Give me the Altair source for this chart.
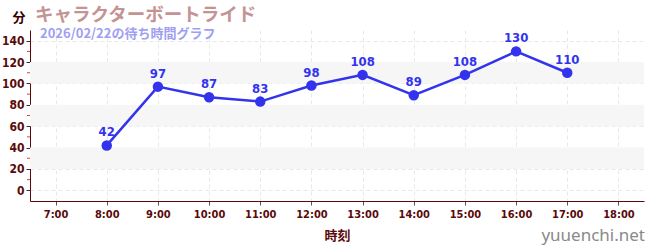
import altair as alt
import pandas as pd

hours = [8, 9, 10, 11, 12, 13, 14, 15, 16, 17]
waits = [42, 97, 87, 83, 98, 108, 89, 108, 130, 110]
hour_ticks = [7, 8, 9, 10, 11, 12, 13, 14, 15, 16, 17, 18]
y_ticks = [0, 20, 40, 60, 80, 100, 120, 140]
minor_ticks = [10, 30, 50, 70, 90, 110, 130]
band_lo = [20, 60, 100]
band_hi = [40, 80, 120]

W, H = 614, 171
AXIS = "#5a0a0a"
FONT = "DejaVu Sans Condensed"

df = pd.DataFrame({"hour": hours, "wait": waits})
bands = pd.DataFrame({"lo": band_lo, "hi": band_hi})
minors = pd.DataFrame({"v": minor_ticks})

xs = alt.Scale(domain=[6.5, 18.5], nice=False, zero=False)
ys = alt.Scale(domain=[-10, 150], nice=False, zero=False)

x_axis = alt.Axis(values=hour_ticks, labelExpr="datum.value + ':00'", title="時刻",
                  grid=True, gridDash=[4, 3], gridColor="#e8e8e8", domainColor=AXIS,
                  tickColor="#555", tickSize=4, labelColor=AXIS, labelFont=FONT,
                  labelFontSize=11, labelFontWeight="bold", titleFont="Noto Sans CJK JP",
                  titleFontSize=13, titleFontWeight="bold", titleColor=AXIS, titlePadding=10,
                  labelPadding=3, labelOverlap=False)
y_axis = alt.Axis(values=y_ticks, title=None, grid=True, gridDash=[4, 3], gridColor="#e8e8e8",
                  domainColor=AXIS, tickColor="#333", tickSize=4, labelColor=AXIS,
                  labelFont=FONT, labelFontSize=12, labelFontWeight="bold", labelPadding=2,
                  labelOverlap=False)

band = alt.Chart(bands).mark_rect(color="#f6f6f6").encode(
    y=alt.Y("lo:Q", scale=ys, axis=y_axis, title=None),
    y2="hi:Q",
    x=alt.value(0), x2=alt.value(W),
)

minor = alt.Chart(minors).mark_rule(color="#e04040", strokeWidth=1).encode(
    y=alt.Y("v:Q", scale=ys, axis=y_axis, title=None),
    x=alt.value(-3), x2=alt.value(0),
)

base = alt.Chart(df).encode(
    x=alt.X("hour:Q", scale=xs, axis=x_axis),
    y=alt.Y("wait:Q", scale=ys, axis=y_axis, title=None),
)
line = base.mark_line(color="#3333ee", strokeWidth=2.5)
pts = base.mark_circle(color="#3333ee", size=110, opacity=1)
labels = base.mark_text(color="#3333ee", dy=-13, font=FONT, fontSize=13,
                        fontWeight="bold").encode(text="wait:Q")

ann = pd.DataFrame({
    "t": ["キャラクターボートライド", "2026/02/22の待ち時間グラフ", "分", "yuuenchi.net"],
})
title = alt.Chart(ann.iloc[[0]]).mark_text(align="left", baseline="alphabetic",
    font="Noto Sans CJK JP", fontSize=18.5, fontWeight="bold", color="#c49494").encode(
    text="t:N", x=alt.value(5), y=alt.value(-9))
sub = alt.Chart(ann.iloc[[1]]).mark_text(align="left", baseline="alphabetic",
    font="Noto Sans CJK JP", fontSize=13, fontWeight="bold", color="#9f9ff2").encode(
    text="t:N", x=alt.value(10), y=alt.value(8))
unit = alt.Chart(ann.iloc[[2]]).mark_text(align="center", baseline="alphabetic",
    font="Noto Sans CJK JP", fontSize=13, fontWeight="bold", color="#3a0000").encode(
    text="t:N", x=alt.value(-11), y=alt.value(-8))
mark = alt.Chart(ann.iloc[[3]]).mark_text(align="right", baseline="alphabetic",
    font="Noto Sans", fontSize=17, color="#8a8a8a").encode(
    text="t:N", x=alt.value(W + 1), y=alt.value(H + 40))

chart = alt.layer(band, minor, line, pts, labels, title, sub, unit, mark).properties(
    width=W, height=H,
    autosize=alt.AutoSizeParams(type="none"),
    padding={"left": 30, "top": 30, "right": 6, "bottom": 49},
    background="white",
).configure_view(stroke=None)

chart.save("out.html", embed_options={"renderer": "svg", "actions": False})
